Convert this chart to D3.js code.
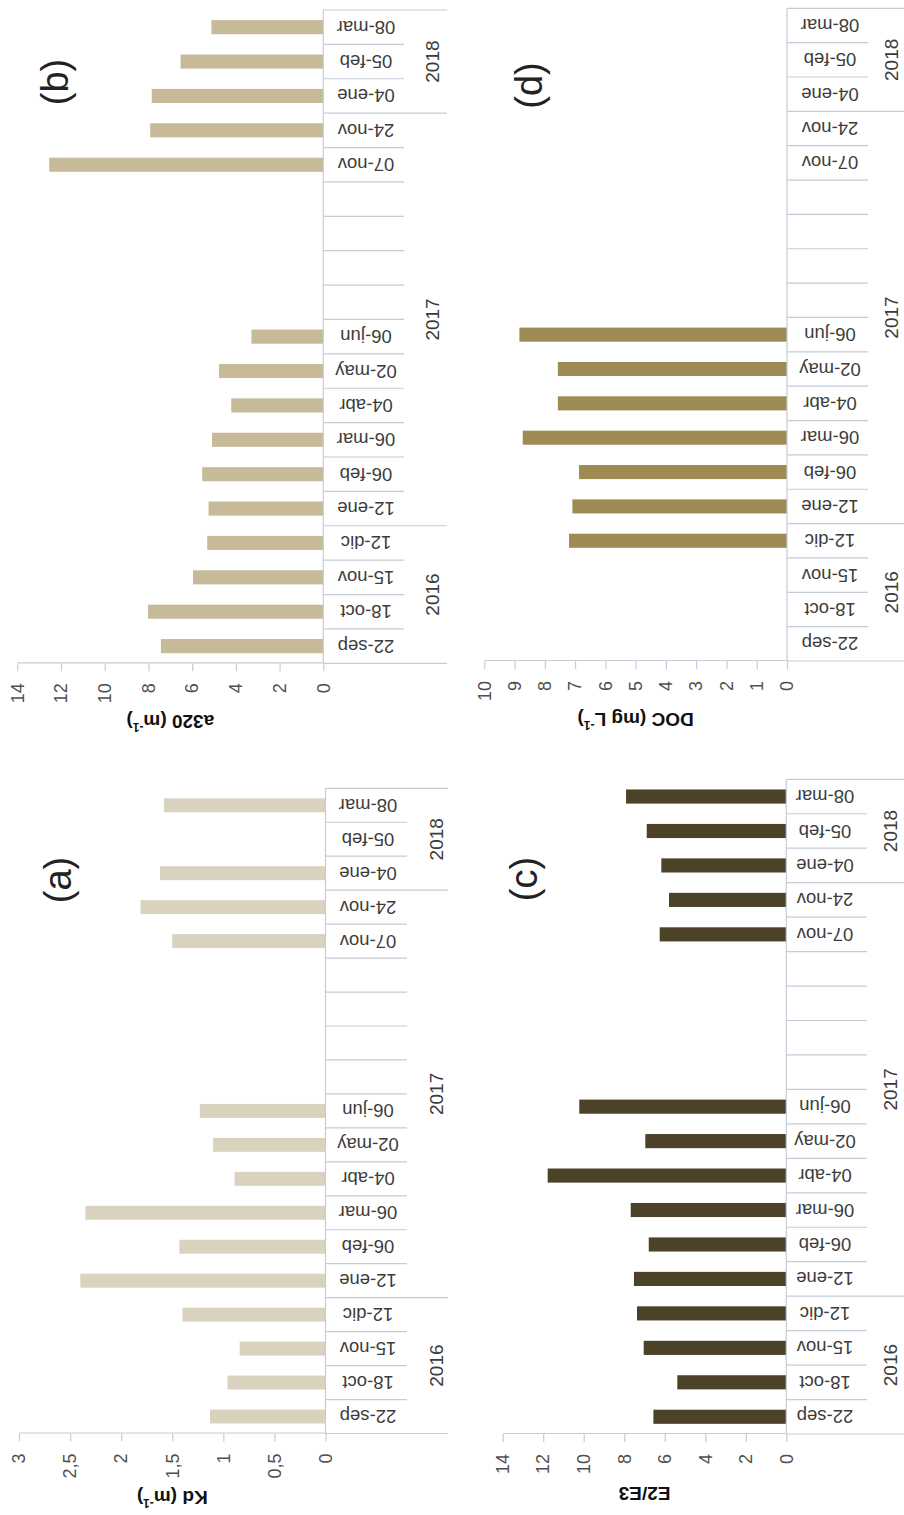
<!DOCTYPE html>
<html>
<head>
<meta charset="utf-8">
<script src="https://cdn.jsdelivr.net/npm/d3@7"></script>
<style>
  body { margin: 0; background: #fff; }
  svg { display: block; }
</style>
</head>
<body>
<script>
// Sampling dates (blank slots are months without a sample)
const dates = ["22-sep", "18-oct", "15-nov", "12-dic", "12-ene", "06-feb", "06-mar", "04-abr", "02-may", "06-jun",
               "", "", "", "", "07-nov", "24-nov", "04-ene", "05-feb", "08-mar"];
const yearLabels = ["2016", "2017", "2018"];
const yearSpans = [4, 12, 3];   // number of date slots in each year

// Measured series (null = no measurement)
const kd   = [1.13, 0.96, 0.84, 1.40, 2.40, 1.43, 2.35, 0.89, 1.10, 1.23, null, null, null, null, 1.50, 1.81, 1.62, null, 1.58];
const a320 = [7.43, 8.02, 5.96, 5.31, 5.25, 5.54, 5.09, 4.21, 4.77, 3.29, null, null, null, null, 12.54, 7.92, 7.85, 6.53, 5.12];
const e2e3 = [6.56, 5.38, 7.04, 7.37, 7.52, 6.79, 7.68, 11.78, 6.96, 10.22, null, null, null, null, 6.25, 5.79, 6.17, 6.89, 7.91];
const doc  = [null, null, null, 7.20, 7.09, 6.87, 8.73, 7.57, 7.57, 8.84, null, null, null, null, null, null, null, null, null];

// Value-axis tick values
const kdTicks   = [0, 0.5, 1, 1.5, 2, 2.5, 3];
const a320Ticks = [0, 2, 4, 6, 8, 10, 12, 14];
const e2e3Ticks = [0, 2, 4, 6, 8, 10, 12, 14];
const docTicks  = [0, 1, 2, 3, 4, 5, 6, 7, 8, 9, 10];

const esLocale = d3.formatLocale({ decimal: ",", thousands: ".", grouping: [3], currency: ["", " €"] });
const fmt = esLocale.format("~g");

const W = 904, H = 1515;
const svg = d3.select("body").append("svg").attr("width", W).attr("height", H);
svg.append("rect").attr("width", W).attr("height", H).attr("fill", "#fff");

// The figure is laid out landscape (1515 x 904) and turned a quarter turn.
const page = svg.append("g").attr("transform", `translate(0,${H}) rotate(-90)`);

const FONT = "'Liberation Sans', Arial, sans-serif";
const AXIS_COLOR = "#c5ccd6";

const panels = [
  { tag: "(a)", values: kd, ticks: kdTicks, color: "#d8d2be",
    title: ["Kd (m", "-1", ")"],
    x0: 81.5, x1: 726.7, yZero: 325.5, yTop: 19,
    tagX: 635, tagY: 71, titleX: 17, catY: 368, sepEnd: 407, yearEnd: 448, yearY: 436 },
  { tag: "(b)", values: a320, ticks: a320Ticks, color: "#c6ba98",
    title: ["a320 (m", "-1", ")"],
    x0: 851.7, x1: 1505, yZero: 323.3, yTop: 17.3,
    tagX: 1433, tagY: 68, titleX: 793, catY: 366, sepEnd: 404, yearEnd: 447, yearY: 432 },
  { tag: "(c)", values: e2e3, ticks: e2e3Ticks, color: "#4b4228",
    title: ["E2/E3"],
    x0: 81, x1: 735.7, yZero: 786.3, yTop: 502.7,
    tagX: 636, tagY: 537, titleX: 21, catY: 825, sepEnd: 867, yearEnd: 910, yearY: 890 },
  { tag: "(d)", values: doc, ticks: docTicks, color: "#9e8b53",
    title: ["DOC (mg L", "-1", ")"],
    x0: 854, x1: 1506.7, yZero: 787, yTop: 484.3,
    tagX: 1429.5, tagY: 542, titleX: 795, catY: 830, sepEnd: 868, yearEnd: 910, yearY: 891 }
];

panels.forEach(p => {
  const g = page.append("g");
  const idx = d3.range(dates.length);

  const x = d3.scaleBand().domain(idx).range([p.x0, p.x1]).paddingInner(0.59).paddingOuter(0.295);
  const step = x.step();
  const maxV = p.ticks[p.ticks.length - 1];
  const y = d3.scaleLinear().domain([0, maxV]).range([p.yZero, p.yTop]);

  // bars
  g.append("g").selectAll("rect")
    .data(idx.filter(i => p.values[i] != null))
    .join("rect")
    .attr("x", i => x(i))
    .attr("width", x.bandwidth())
    .attr("y", i => y(p.values[i]))
    .attr("height", i => y(0) - y(p.values[i]))
    .attr("fill", p.color);

  // value axis
  const axis = d3.axisLeft(y).tickValues(p.ticks).tickFormat(fmt)
    .tickSize(8).tickSizeOuter(0).tickPadding(12);
  const ax = g.append("g").attr("transform", `translate(${p.x0},0)`).call(axis);
  ax.select(".domain").attr("stroke", AXIS_COLOR).attr("stroke-width", 1.2);
  ax.selectAll(".tick line").attr("stroke", AXIS_COLOR).attr("stroke-width", 1.2);
  ax.selectAll(".tick text").attr("font-family", FONT).attr("font-size", 18).attr("fill", "#505050");

  // category axis line
  g.append("line").attr("x1", p.x0).attr("x2", p.x1).attr("y1", p.yZero).attr("y2", p.yZero)
    .attr("stroke", AXIS_COLOR).attr("stroke-width", 1.2);

  // slot separators and year boundaries
  const yearBounds = [0];
  yearSpans.forEach(s => yearBounds.push(yearBounds[yearBounds.length - 1] + s));
  d3.range(dates.length + 1).forEach(k => {
    const xb = p.x0 + k * step;
    const isYear = yearBounds.includes(k);
    g.append("line").attr("x1", xb).attr("x2", xb)
      .attr("y1", p.yZero).attr("y2", isYear ? p.yearEnd : p.sepEnd)
      .attr("stroke", AXIS_COLOR).attr("stroke-width", 1.2);
  });

  // date labels
  g.append("g").selectAll("text")
    .data(idx.filter(i => dates[i] !== ""))
    .join("text")
    .attr("transform", i => `translate(${x(i) + x.bandwidth() / 2},${p.catY}) rotate(-90)`)
    .attr("text-anchor", "middle").attr("dy", "0.35em")
    .attr("font-family", FONT).attr("font-size", 18.5).attr("fill", "#3c3c3c")
    .text(i => dates[i]);

  // year labels
  yearLabels.forEach((lab, j) => {
    const c = p.x0 + (yearBounds[j] + yearBounds[j + 1]) / 2 * step;
    g.append("text").attr("x", c).attr("y", p.yearY).attr("dy", "0.35em")
      .attr("text-anchor", "middle")
      .attr("font-family", FONT).attr("font-size", 19).attr("fill", "#3c3c3c")
      .text(lab);
  });

  // axis title
  const tc = (p.yZero + p.yTop) / 2;
  const t = g.append("text")
    .attr("transform", `translate(${p.titleX},${tc}) rotate(-90)`)
    .attr("text-anchor", "middle").attr("dy", "0.35em")
    .attr("font-family", FONT).attr("font-size", 19).attr("font-weight", "bold").attr("fill", "#111");
  t.append("tspan").text(p.title[0]);
  if (p.title.length > 1) {
    t.append("tspan").attr("font-size", 12).attr("dy", "-0.6em").text(p.title[1]);
    t.append("tspan").attr("dy", "0.38em").text(p.title[2]);
  }

  // panel tag
  g.append("text").attr("x", p.tagX).attr("y", p.tagY)
    .attr("text-anchor", "middle")
    .attr("font-family", FONT).attr("font-size", 38).attr("fill", "#222")
    .text(p.tag);
});
</script>
</body>
</html>
